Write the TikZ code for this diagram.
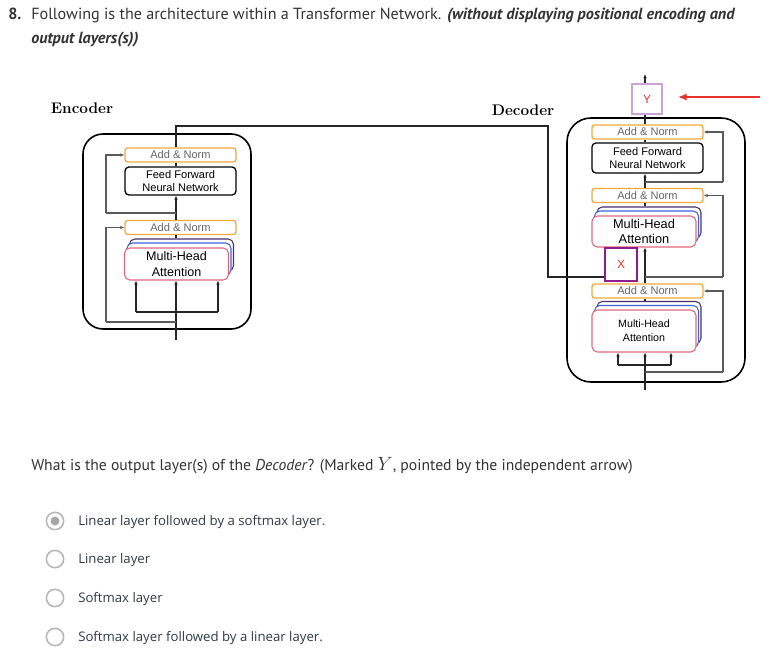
\documentclass[tikz,border=0pt]{standalone}
\usepackage{fontspec}
\usetikzlibrary{arrows.meta}
\newfontfamily\qfont{PT Sans}
\newfontfamily\dfont{Liberation Sans}
\newfontfamily\ofont{Open Sans}
\definecolor{anorange}{HTML}{F2A93B}
\definecolor{angray}{HTML}{666666}
\definecolor{mhapink}{HTML}{E2677A}
\definecolor{mhablue}{HTML}{3F63D8}
\definecolor{mhapurple}{HTML}{4A2E6E}
\definecolor{ybox}{HTML}{C9A3D9}
\definecolor{xbox}{HTML}{8E1E8E}
\definecolor{redc}{HTML}{E5322D}
\definecolor{resgray}{HTML}{5A5A5A}
\definecolor{txtdark}{HTML}{333333}
\definecolor{opttxt}{HTML}{2D3B45}
\definecolor{radiogray}{HTML}{B8B8B8}
\begin{document}
\begin{tikzpicture}[x=0.75pt,y=-0.75pt,
  outerbox/.style={draw=black, line width=1.2pt, rounded corners=15pt, inner sep=0pt},
  addnorm/.style={draw=anorange, line width=1pt, rounded corners=2pt, fill=white,
    minimum width=83.25pt, minimum height=10.5pt, inner sep=0pt, text=angray,
    font=\dfont\fontsize{8.3pt}{9pt}\selectfont},
  ffnbox/.style={draw=black, line width=1pt, rounded corners=3pt, fill=white,
    minimum width=83.25pt, inner sep=0pt, align=center,
    font=\dfont\fontsize{8.3pt}{10pt}\selectfont},
  mhafront/.style={draw=mhapink, line width=0.8pt, rounded corners=4pt, fill=white,
    minimum width=78pt, inner sep=0pt, align=center},
  mhablue/.style={draw=mhablue, line width=0.8pt, rounded corners=4pt, fill=white,
    minimum width=78pt, inner sep=0pt},
  mhapurple/.style={draw=mhapurple, line width=0.8pt, rounded corners=4pt, fill=white,
    minimum width=78pt, inner sep=0pt},
  conn/.style={draw=black!85, line width=1pt},
  arr/.style={conn, -{Latex[length=3pt,width=2.6pt]}},
  res/.style={draw=resgray, line width=1pt},
  resarr/.style={res, -{Latex[length=3pt,width=2.6pt]}},
  redarr/.style={draw=redc, line width=1.3pt, -{Latex[length=6.5pt,width=5.5pt]}},
  title/.style={font=\bfseries\fontsize{11.5pt}{13pt}\selectfont, inner sep=0pt},
  qtext/.style={anchor=base west, inner sep=0pt, text=txtdark, font=\qfont\fontsize{12.1pt}{14pt}\selectfont},
  qline/.style={anchor=base west, inner sep=0pt, text=txtdark, font=\qfont\fontsize{11.75pt}{14pt}\selectfont},
  otext/.style={anchor=base west, inner sep=0pt, text=opttxt, font=\ofont\fontsize{9.9pt}{12pt}\selectfont},
  radio/.style={circle, draw=radiogray, line width=1.2pt, minimum size=13pt, inner sep=0pt}
]
\useasboundingbox (0,0) rectangle (772,653);
\fill[white] (0,0) rectangle (772,653);

% ---------- header ----------
\node[qtext] (num) at (8,19) {\bfseries 8.};
\node[qtext] (h1) at (31,19) {Following is the architecture within a Transformer Network. \textbf{\textit{(without displaying positional encoding and}}};
\node[qtext] (h2) at (31,43) {\textbf{\textit{output layers(s))}}};

% ---------- titles ----------
\node[title] (enclabel) at (82,108) {Encoder};
\node[title] (declabel) at (523,110) {Decoder};

% ---------- encoder ----------
\node[outerbox, minimum width=126pt, minimum height=146.25pt] (encbox) at (167,231.5) {};
\node[addnorm] (eAN2) at (180.5,155) {Add \& Norm};
\node[ffnbox, minimum height=21pt] (eFFN) at (180.5,181) {Feed Forward\\Neural Network};
\node[addnorm] (eAN1) at (180.5,227.5) {Add \& Norm};
\node[mhapurple, minimum height=24pt] (eMHAp) at (181.5,255) {};
\node[mhablue, minimum height=24pt] (eMHAb) at (179,259) {};
\node[mhafront, minimum height=24pt, font=\dfont\fontsize{9.4pt}{11.5pt}\selectfont] (eMHA) at (176.5,264) {Multi-Head\\Attention};

\coordinate (eIn) at (176,340);
\coordinate (eBL) at (136,312);
\coordinate (eBR) at (218,312);
\coordinate (eR1a) at (176,322);
\coordinate (eR1b) at (106,322);
\coordinate (eR2a) at (176,213);
\coordinate (eR2b) at (106,213);
\coordinate (jTop) at (176,126);
\coordinate (jR) at (548,126);

\draw[arr] (eIn) -- (eMHA.south -| eIn);
\draw[conn] (eBL) -- (eBR);
\draw[arr] (eBL) -- (eBL |- eMHA.south);
\draw[arr] (eBR) -- (eBR |- eMHA.south);
\draw[res] (eR1a) -- (eR1b);
\draw[resarr] (eR1b) |- (eAN1.west);
\draw[conn] (eMHAp.north -| eIn) -- (eAN1.south -| eIn);
\draw[arr] (eAN1.north -| eIn) -- (eFFN.south -| eIn);
\draw[res] (eR2a) -- (eR2b);
\draw[resarr] (eR2b) |- (eAN2.west);
\draw[conn] (eFFN.north -| eIn) -- (eAN2.south -| eIn);

% ---------- decoder ----------
\node[outerbox, minimum width=133.5pt, minimum height=198pt, rounded corners=18pt] (decbox) at (656,250) {};
\node[draw=ybox, line width=0.8pt, minimum size=22.5pt, inner sep=0pt, text=redc, font=\dfont\fontsize{9pt}{10pt}\selectfont] (Ybox) at (647,99) {Y};
\node[addnorm] (dAN3) at (647.5,132) {Add \& Norm};
\node[ffnbox, minimum height=22.5pt] (dFFN) at (647.5,158) {Feed Forward\\Neural Network};
\node[addnorm] (dAN2) at (647.5,195.5) {Add \& Norm};
\node[mhapurple, minimum height=23.25pt] (dMHA2p) at (649,222.5) {};
\node[mhablue, minimum height=23.25pt] (dMHA2b) at (646.5,226.5) {};
\node[mhafront, minimum height=23.25pt, font=\dfont\fontsize{9.6pt}{11.5pt}\selectfont] (dMHA2) at (644,231.5) {Multi-Head\\Attention};
\node[draw=xbox, line width=1.2pt, minimum width=24pt, minimum height=24.75pt, inner sep=0pt, text=redc, font=\dfont\fontsize{9pt}{10pt}\selectfont] (Xbox) at (621,264.5) {X};
\node[addnorm] (dAN1) at (647.5,291) {Add \& Norm};
\node[mhapurple, minimum height=31.5pt] (dMHA1p) at (649,322.5) {};
\node[mhablue, minimum height=31.5pt] (dMHA1b) at (646.5,326.5) {};
\node[mhafront, minimum height=31.5pt, font=\dfont\fontsize{8pt}{10.5pt}\selectfont] (dMHA1) at (644,331) {Multi-Head\\Attention};

\coordinate (dIn) at (645,390);
\coordinate (dBL) at (618,365);
\coordinate (dBR) at (671,365);
\coordinate (dR1a) at (645,372);
\coordinate (dR1b) at (723,372);
\coordinate (dR2a) at (645,277);
\coordinate (dR2b) at (723,277);
\coordinate (dR3a) at (645,182);
\coordinate (dR3b) at (723,182);
\coordinate (dOut) at (645,74);
\coordinate (xIn) at (Xbox.west |- 0,277);
\coordinate (redS) at (760,97);
\coordinate (redE) at (678,97);

\draw[arr] (dIn) -- (dMHA1.south -| dIn);
\draw[conn] (dBL) -- (dBR);
\draw[arr] (dBL) -- (dBL |- dMHA1.south);
\draw[arr] (dBR) -- (dBR |- dMHA1.south);
\draw[res] (dR1a) -- (dR1b);
\draw[resarr] (dR1b) |- (dAN1.east);
\draw[conn] (dMHA1p.north -| dIn) -- (dAN1.south -| dIn);
\draw[arr] (dAN1.north -| dIn) -- (dMHA2.south -| dIn);
\draw[res] (dR2a) -- (dR2b);
\draw[resarr] (dR2b) |- (dAN2.east);
\draw[conn] (dMHA2p.north -| dIn) -- (dAN2.south -| dIn);
\draw[arr] (dAN2.north -| dIn) -- (dFFN.south -| dIn);
\draw[res] (dR3a) -- (dR3b);
\draw[resarr] (dR3b) |- (dAN3.east);
\draw[conn] (dFFN.north -| dIn) -- (dAN3.south -| dIn);
\draw[conn] (dAN3.north -| dIn) -- (Ybox.south -| dIn);
\draw[arr] (Ybox.north -| dIn) -- (dOut);
\draw[redarr] (redS) -- (redE);

% encoder -> decoder link
\draw[conn] (eAN2.north -| eIn) -- (jTop) -- (jR) |- (xIn);

% ---------- question ----------
\node[qline] (q) at (31,470) {What is the output layer(s) of the \textit{Decoder}? (Marked {\fontsize{14.5pt}{14.5pt}\selectfont$Y$}, pointed by the independent arrow)};

\node[radio] (r1) at (55,521) {};
\fill[radiogray!90!black] (r1.center) circle[radius=4.5];
\node[radio] (r2) at (55,559) {};
\node[radio] (r3) at (55,598) {};
\node[radio] (r4) at (55,637) {};
\node[otext] (o1) at (78,525) {Linear layer followed by a softmax layer.};
\node[otext] (o2) at (78,563) {Linear layer};
\node[otext] (o3) at (78,602) {Softmax layer};
\node[otext] (o4) at (78,641) {Softmax layer followed by a linear layer.};
\end{tikzpicture}
\end{document}
